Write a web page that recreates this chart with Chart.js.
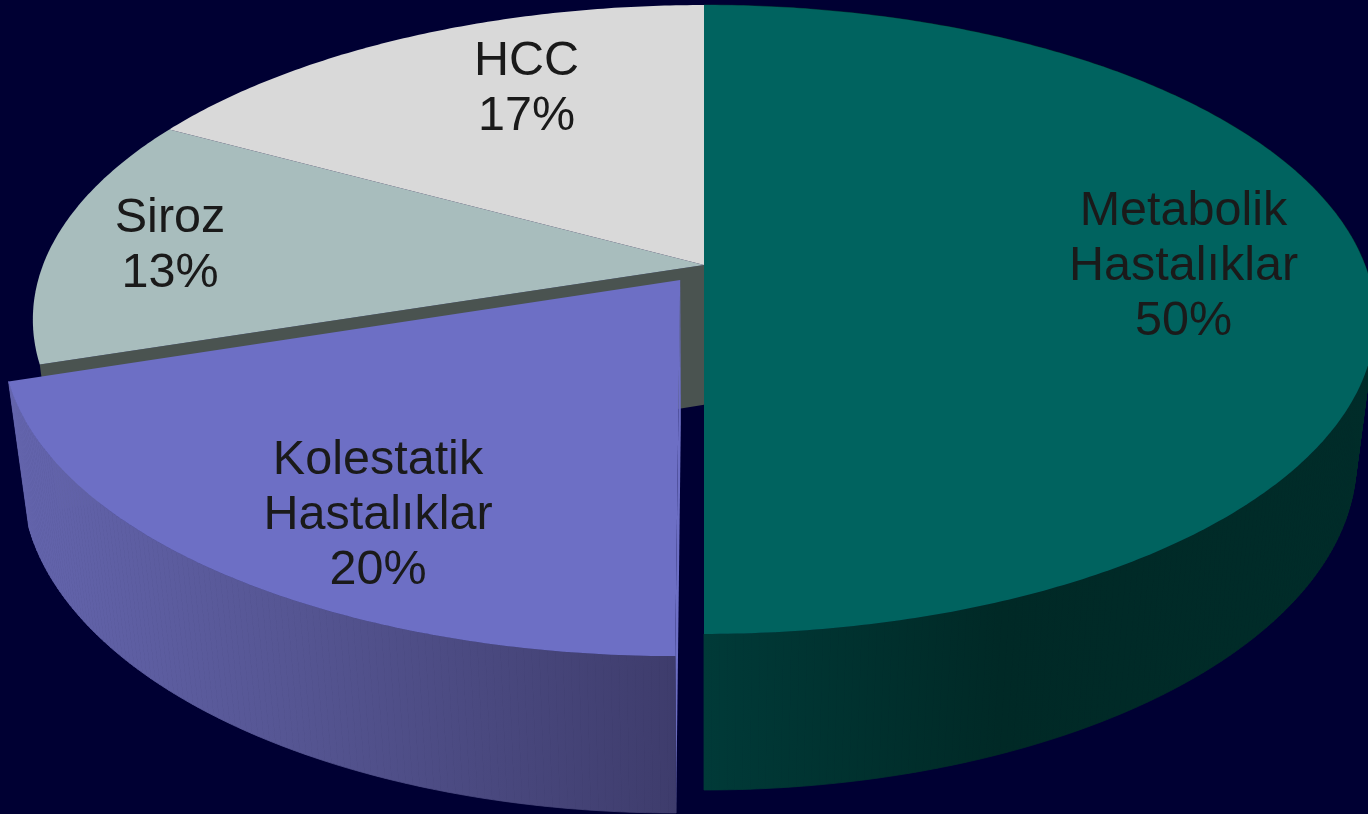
<!DOCTYPE html>
<html><head><meta charset="utf-8">
<style>html,body{margin:0;padding:0;background:#000033;overflow:hidden}canvas{display:block}</style>
<script src="https://cdn.jsdelivr.net/npm/chart.js@4"></script>
</head><body><canvas id="c" width="1368" height="814"></canvas>
<script>
const categories = ["Metabolik Hastalıklar", "Kolestatik Hastalıklar", "Siroz", "HCC"];
const values = [50, 20, 13, 17];
const labelLines = [["Metabolik", "Hastalıklar", "50%"], ["Kolestatik", "Hastalıklar", "20%"], ["Siroz", "13%"], ["HCC", "17%"]];
const topColors = ["#00635f", "#6d6fc5", "#a8bdbd", "#d9d9d9"];
const explode = [0, 24, 0, 0];

// Camera (perspective view of the pie plane) and label anchors
const cam = { cx: 704, cy: 265, A: 661, B: 305, C: 143.7, k: 0.1733, m: 0.028 };
const labelAnchors = [[1183.5, 225], [378, 474], [170, 232], [526.5, 75]];
const lineGap = 55;
const faceColor = "#4a5350";
const wallStops = [
  [[704, "#003a38"], [1000, "#002926"], [1368, "#002c29"]],
  [[10, "#6465ae"], [300, "#555592"], [677, "#3e3c6c"]],
  null, null
];

function proj(u, v, h) {
  const w = 1 - cam.k * v + cam.m * h;
  return [cam.cx + cam.A * u / w, cam.cy + (cam.B * v + cam.C * h) / w];
}
function arcPts(a0, a1, ox, oy, h) {
  const n = Math.max(2, Math.ceil(Math.abs(a1 - a0) / 0.01)), pts = [];
  for (let i = 0; i <= n; i++) {
    const a = a0 + (a1 - a0) * i / n;
    pts.push(proj(ox + Math.cos(a), oy + Math.sin(a), h));
  }
  return pts;
}
function poly(ctx, pts, fill, edge) {
  ctx.beginPath();
  pts.forEach((p, i) => i ? ctx.lineTo(p[0], p[1]) : ctx.moveTo(p[0], p[1]));
  ctx.closePath();
  ctx.fillStyle = fill;
  ctx.fill();
  if (edge) { ctx.strokeStyle = fill; ctx.lineWidth = 0.8; ctx.stroke(); }
}
function grad(ctx, stops) {
  const x0 = stops[0][0], x1 = stops[stops.length - 1][0];
  const g = ctx.createLinearGradient(x0, 0, x1, 0);
  stops.forEach(s => g.addColorStop((s[0] - x0) / (x1 - x0), s[1]));
  return g;
}

const pie3d = {
  id: "pie3d",
  beforeDatasetsDraw(chart) {
    const ctx = chart.ctx, arcs = chart.getDatasetMeta(0).data;
    ctx.save();
    const info = arcs.map(el => {
      const d = (el.options.offset || 0) / el.outerRadius, mid = (el.startAngle + el.endAngle) / 2;
      return { a0: el.startAngle, a1: el.endAngle, color: el.options.backgroundColor, ex: d, ox: d * Math.cos(mid), oy: d * Math.sin(mid) };
    });
    const top = s => [proj(s.ox, s.oy, 0)].concat(arcPts(s.a0, s.a1, s.ox, s.oy, 0));
    const wall = (s, i) => {
      const f = grad(ctx, wallStops[i]);
      const t = arcPts(s.a0, s.a1, s.ox, s.oy, 0), b = arcPts(s.a0, s.a1, s.ox, s.oy, 1);
      for (let j = 0; j < t.length - 1; j++) poly(ctx, [t[j], t[j + 1], b[j + 1], b[j]], f, true);
    };
    // slices that stay in place: cut face bared by the exploded neighbour, then tops
    info.forEach((s, i) => {
      if (s.ex) {
        const n = info[(i + 1) % info.length];
        const rim = [Math.cos(n.a0), Math.sin(n.a0)];
        poly(ctx, [proj(0, 0, 0), proj(rim[0], rim[1], 0), proj(rim[0], rim[1], 1), proj(0, 0, 1)], faceColor);
      }
    });
    info.forEach((s, i) => { if (!s.ex && wallStops[i]) wall(s, i); });
    info.forEach(s => { if (!s.ex) poly(ctx, top(s), s.color); });
    // exploded slice
    info.forEach((s, i) => {
      if (!s.ex) return;
      const e = [s.ox + Math.cos(s.a0), s.oy + Math.sin(s.a0)];
      poly(ctx, [proj(s.ox, s.oy, 0), proj(e[0], e[1], 0), proj(e[0], e[1], 1), proj(s.ox, s.oy, 1)], s.color);
      wall(s, i);
      poly(ctx, top(s), s.color);
    });
    // labels
    ctx.fillStyle = "#1a1a1a";
    ctx.font = '48.5px "Liberation Sans", Arial, sans-serif';
    ctx.textAlign = "center";
    ctx.textBaseline = "alphabetic";
    labelLines.forEach((lines, i) => lines.forEach((t, j) => ctx.fillText(t, labelAnchors[i][0], labelAnchors[i][1] + j * lineGap)));
    ctx.restore();
    return false;
  }
};

new Chart(document.getElementById("c"), {
  type: "pie",
  data: { labels: categories, datasets: [{ data: values, backgroundColor: topColors, offset: explode, borderWidth: 0 }] },
  options: {
    responsive: false, animation: false, events: [],
    layout: { padding: 0 },
    plugins: { legend: { display: false }, tooltip: { enabled: false }, title: { display: false } }
  },
  plugins: [pie3d]
});
</script></body></html>
